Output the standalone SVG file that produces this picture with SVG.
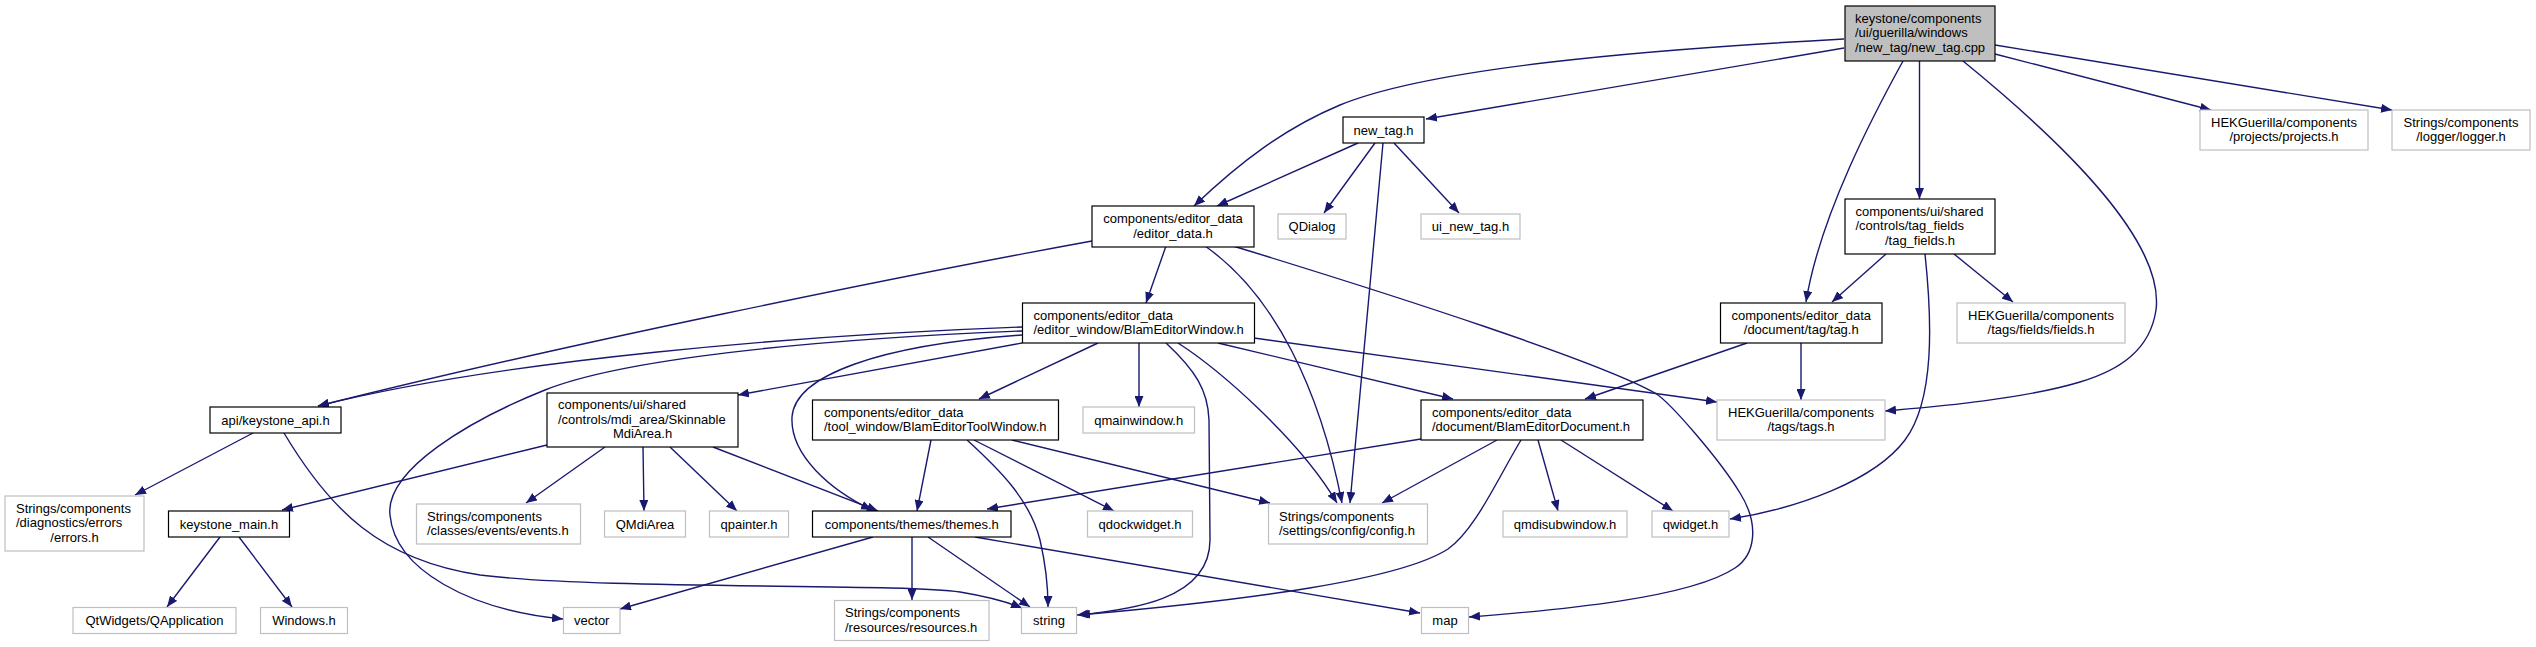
<svg xmlns="http://www.w3.org/2000/svg" width="2536" height="647" viewBox="0 0 2536 647">
<style>
text{font-family:"Liberation Sans",Arial,Helvetica,sans-serif;font-size:13px;fill:#000}
.m{text-anchor:middle}
.n rect{fill:#fff;stroke:#000;stroke-width:1.2}
.x rect{fill:#fff;stroke:#bfbfbf;stroke-width:1.2}
.r rect{fill:#bfbfbf;stroke:#000;stroke-width:1.2}
#edges path{fill:none;stroke:#191970;stroke-width:1.4;marker-end:url(#a)}
</style>
<defs>
<marker id="a" markerUnits="userSpaceOnUse" markerWidth="11" markerHeight="9" refX="11" refY="4.5" orient="auto">
<path d="M0,0 L11,4.5 L0,9 z" fill="#191970" stroke="none"/>
</marker>
</defs>
<rect width="2536" height="647" fill="#fff"/>
<g id="edges">
<path d="M1844,39 C1640,50 1430,68 1340,105 C1285,128 1240,162 1194,206"/>
<path d="M1844,48 L1426,119"/>
<path d="M1903,61 C1875,112 1820,215 1806,302"/>
<path d="M1919.5,61 L1919.5,199"/>
<path d="M1995,54 L2211,110"/>
<path d="M1995,45 L2392,110"/>
<path d="M1963,61 C2060,140 2165,240 2156,310 C2150,350 2120,370 2080,382 C2020,400 1930,407 1885,411"/>
<path d="M1358,143 L1217,206"/>
<path d="M1375,143 L1324,213"/>
<path d="M1394,143 L1459,213"/>
<path d="M1383,143 L1350,503"/>
<path d="M1166,246 L1146,303"/>
<path d="M1092,241 C900,276 560,345 318,406"/>
<path d="M1205,246 C1275,295 1320,390 1342,503"/>
<path d="M1233,246 C1400,297 1600,362 1655,393 C1670,402 1720,460 1740,493 C1760,525 1755,555 1735,568 C1690,598 1560,610 1469,617"/>
<path d="M1022,327 C800,335 500,360 318,406"/>
<path d="M1022,331 C800,340 620,360 545,390 C470,420 385,470 390,515 C395,570 470,610 563,619"/>
<path d="M1022,343 L738,395"/>
<path d="M1022,335 C880,345 795,375 792,417 C790,455 830,490 872,510"/>
<path d="M1098,343 L979,399"/>
<path d="M1139,343 L1139,407"/>
<path d="M1166,343 C1195,370 1208,390 1209,420 L1210,540 C1210,600 1130,610 1077,615"/>
<path d="M1178,343 C1220,370 1300,440 1337,503"/>
<path d="M1218,343 L1453,399"/>
<path d="M1254,338 L1717,402"/>
<path d="M253,433 L135,495"/>
<path d="M284,433 C330,510 380,560 480,575 C600,590 900,583 960,592 C990,597 1010,603 1022,608"/>
<path d="M547,445 L282,510"/>
<path d="M605,447 L526,503"/>
<path d="M643,447 L644,511"/>
<path d="M670,447 L737,511"/>
<path d="M713,447 L878,511"/>
<path d="M220,537 L167,607"/>
<path d="M239,537 L292,607"/>
<path d="M931,440 L917,511"/>
<path d="M967,440 C1000,470 1030,500 1040,540 C1047,570 1048,590 1048,607"/>
<path d="M974,440 L1114,511"/>
<path d="M1012,440 L1270,503"/>
<path d="M873,537 L620,609"/>
<path d="M912,537 L912,600"/>
<path d="M928,537 L1030,607"/>
<path d="M975,537 L1420,613"/>
<path d="M1421,439 L987,509"/>
<path d="M1497,440 L1382,503"/>
<path d="M1521,440 C1497,480 1475,530 1448,549 C1400,580 1250,600 1079,615"/>
<path d="M1538,440 L1558,511"/>
<path d="M1561,440 L1673,511"/>
<path d="M1747,343 L1585,399"/>
<path d="M1801,343 L1801,400"/>
<path d="M1886,254 L1832,302"/>
<path d="M1954,254 L2013,302"/>
<path d="M1925,254 C1932,320 1935,400 1905,440 C1875,480 1800,508 1730,519"/>
</g>
<g id="n0" class="r"><rect x="1845" y="6" width="150" height="55"/><text x="1855" y="22.5">keystone/components</text><text x="1855" y="37">/ui/guerilla/windows</text><text x="1855" y="51.5">/new_tag/new_tag.cpp</text></g>
<g id="n1" class="n"><rect x="1343" y="117" width="81" height="26"/><text class="m" x="1383.5" y="134.5">new_tag.h</text></g>
<g id="n2" class="x"><rect x="1278" y="214" width="68" height="25"/><text class="m" x="1312" y="231">QDialog</text></g>
<g id="n3" class="x"><rect x="1421" y="214" width="99" height="25"/><text class="m" x="1470.5" y="231">ui_new_tag.h</text></g>
<g id="n4" class="x"><rect x="2200" y="110" width="168" height="40"/><text class="m" x="2284" y="126.5">HEKGuerilla/components</text><text class="m" x="2284" y="141">/projects/projects.h</text></g>
<g id="n5" class="x"><rect x="2392" y="110" width="138" height="40"/><text class="m" x="2461" y="126.5">Strings/components</text><text class="m" x="2461" y="141">/logger/logger.h</text></g>
<g id="n6" class="n"><rect x="1092" y="206" width="162" height="41"/><text class="m" x="1173" y="223">components/editor_data</text><text class="m" x="1173" y="237.5">/editor_data.h</text></g>
<g id="n7" class="n"><rect x="1845" y="199" width="150" height="55"/><text x="1855.5" y="215.5">components/ui/shared</text><text x="1855.5" y="230">/controls/tag_fields</text><text class="m" x="1920" y="244.5">/tag_fields.h</text></g>
<g id="n8" class="n"><rect x="1022.5" y="303" width="232" height="40"/><text x="1033.5" y="319.5">components/editor_data</text><text x="1033.5" y="334">/editor_window/BlamEditorWindow.h</text></g>
<g id="n9" class="n"><rect x="1720.5" y="303" width="161.5" height="40"/><text class="m" x="1801.25" y="319.5">components/editor_data</text><text class="m" x="1801.25" y="334">/document/tag/tag.h</text></g>
<g id="n10" class="x"><rect x="1957" y="303" width="168" height="40"/><text class="m" x="2041" y="319.5">HEKGuerilla/components</text><text class="m" x="2041" y="334">/tags/fields/fields.h</text></g>
<g id="n11" class="n"><rect x="210" y="407" width="131" height="26"/><text class="m" x="275.5" y="424.5">api/keystone_api.h</text></g>
<g id="n12" class="n"><rect x="547" y="393" width="191" height="54"/><text x="558" y="409">components/ui/shared</text><text x="558" y="423.5">/controls/mdi_area/Skinnable</text><text class="m" x="642.5" y="438">MdiArea.h</text></g>
<g id="n13" class="n"><rect x="812.5" y="400" width="246" height="40"/><text x="824" y="416.5">components/editor_data</text><text x="824" y="431">/tool_window/BlamEditorToolWindow.h</text></g>
<g id="n14" class="x"><rect x="1083" y="407" width="111.5" height="26"/><text class="m" x="1138.75" y="424.5">qmainwindow.h</text></g>
<g id="n15" class="n"><rect x="1421" y="400" width="222" height="40"/><text x="1432" y="416.5">components/editor_data</text><text x="1432" y="431">/document/BlamEditorDocument.h</text></g>
<g id="n16" class="x"><rect x="1717" y="400" width="168" height="40"/><text class="m" x="1801" y="416.5">HEKGuerilla/components</text><text class="m" x="1801" y="431">/tags/tags.h</text></g>
<g id="n17" class="x"><rect x="5" y="496" width="139" height="55"/><text x="16" y="512.5">Strings/components</text><text x="16" y="527">/diagnostics/errors</text><text class="m" x="74.5" y="541.5">/errors.h</text></g>
<g id="n18" class="n"><rect x="168.5" y="511" width="121" height="26"/><text class="m" x="229" y="528.5">keystone_main.h</text></g>
<g id="n19" class="x"><rect x="416.5" y="504" width="164" height="40"/><text x="427" y="520.5">Strings/components</text><text x="427" y="535">/classes/events/events.h</text></g>
<g id="n20" class="x"><rect x="604.5" y="511" width="81" height="26"/><text class="m" x="645" y="528.5">QMdiArea</text></g>
<g id="n21" class="x"><rect x="709.5" y="511" width="79" height="26"/><text class="m" x="749" y="528.5">qpainter.h</text></g>
<g id="n22" class="n"><rect x="812.5" y="511" width="198.5" height="26"/><text class="m" x="911.75" y="528.5">components/themes/themes.h</text></g>
<g id="n23" class="x"><rect x="1087.5" y="511" width="105" height="26"/><text class="m" x="1140" y="528.5">qdockwidget.h</text></g>
<g id="n24" class="x"><rect x="1268.5" y="504" width="159" height="40"/><text x="1279" y="520.5">Strings/components</text><text x="1279" y="535">/settings/config/config.h</text></g>
<g id="n25" class="x"><rect x="1503" y="511" width="124" height="26"/><text class="m" x="1565" y="528.5">qmdisubwindow.h</text></g>
<g id="n26" class="x"><rect x="1652" y="511" width="77" height="26"/><text class="m" x="1690.5" y="528.5">qwidget.h</text></g>
<g id="n27" class="x"><rect x="73" y="607.5" width="163" height="26"/><text class="m" x="154.5" y="625">QtWidgets/QApplication</text></g>
<g id="n28" class="x"><rect x="260.5" y="607.5" width="87" height="26"/><text class="m" x="304" y="625">Windows.h</text></g>
<g id="n29" class="x"><rect x="563.5" y="607.5" width="56.5" height="26"/><text class="m" x="591.75" y="625">vector</text></g>
<g id="n30" class="x"><rect x="834.5" y="600.5" width="154.5" height="40"/><text x="845" y="617">Strings/components</text><text x="845" y="631.5">/resources/resources.h</text></g>
<g id="n31" class="x"><rect x="1021.5" y="607.5" width="55" height="26"/><text class="m" x="1049" y="625">string</text></g>
<g id="n32" class="x"><rect x="1421.5" y="607.5" width="47" height="26"/><text class="m" x="1445" y="625">map</text></g>
</svg>
